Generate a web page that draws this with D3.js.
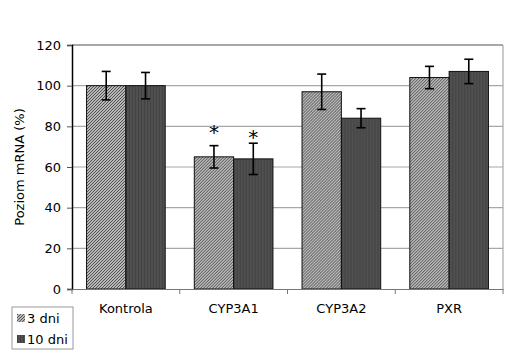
<!DOCTYPE html>
<html>
<head>
<meta charset="utf-8">
<script src="https://cdn.jsdelivr.net/npm/d3@7"></script>
<style>
  body { margin: 0; background: #fff; }
  svg { display: block; font-family: "DejaVu Sans", sans-serif; }
</style>
</head>
<body>
<svg id="chart" width="509" height="363"></svg>
<script>
// data
const categories = ["Kontrola", "CYP3A1", "CYP3A2", "PXR"];
const seriesNames = ["3 dni", "10 dni"];
const values3 = [100, 65, 97, 104];
const values10 = [100, 64, 84, 107];
const err3 = [7, 5.5, 8.7, 5.5];
const err10 = [6.5, 7.7, 4.7, 6];
const yTicks = [0, 20, 40, 60, 80, 100, 120];
// significance marks: [category index, series index, level]
const stars = [[1, 0, 78], [1, 1, 75.5]];

const svg = d3.select("#chart");
const plotLeft = 72, plotRight = 503, plotTop = 45, plotBottom = 289;

const x = d3.scaleBand().domain(categories).range([plotLeft, plotRight]).paddingInner(0).paddingOuter(0);
const xs = d3.scaleBand().domain(seriesNames).range([0, x.bandwidth()]).paddingInner(0).paddingOuter(0.37);
const y = d3.scaleLinear().domain([0, 120]).range([plotBottom, plotTop]);

const defs = svg.append("defs");
const hatch = defs.append("pattern")
    .attr("id", "hatch").attr("patternUnits", "userSpaceOnUse")
    .attr("width", 3).attr("height", 3);
hatch.append("rect").attr("width", 3).attr("height", 3).attr("fill", "#e4e4e4");
hatch.append("path").attr("d", "M-1,1 L1,-1 M0,3 L3,0 M2,4 L4,2")
    .attr("stroke", "#4a4a4a").attr("stroke-width", 1.1);

const dark = defs.append("pattern")
    .attr("id", "dark").attr("patternUnits", "userSpaceOnUse")
    .attr("width", 3).attr("height", 3);
dark.append("rect").attr("width", 3).attr("height", 3).attr("fill", "#505050");
dark.append("rect").attr("width", 1).attr("height", 3).attr("fill", "#424242");

const fills = ["url(#hatch)", "url(#dark)"];

// gridlines
svg.append("g").selectAll("line")
    .data(yTicks.filter(t => t > 0 && t < 120))
    .join("line")
    .attr("x1", plotLeft).attr("x2", plotRight)
    .attr("y1", d => y(d)).attr("y2", d => y(d))
    .attr("stroke", "#a8a8a8").attr("stroke-width", 1.2);

// plot frame
svg.append("line").attr("x1", plotLeft).attr("x2", plotRight).attr("y1", plotTop).attr("y2", plotTop)
    .attr("stroke", "#8a8a8a").attr("stroke-width", 1.5);
svg.append("line").attr("x1", plotRight).attr("x2", plotRight).attr("y1", plotTop).attr("y2", plotBottom)
    .attr("stroke", "#a8a8a8").attr("stroke-width", 1.2);

// bars
const rows = categories.map((c, i) => ({
  cat: c,
  items: [
    { s: 0, name: seriesNames[0], v: values3[i], e: err3[i] },
    { s: 1, name: seriesNames[1], v: values10[i], e: err10[i] }
  ]
}));

const groups = svg.append("g").selectAll("g")
    .data(rows).join("g")
    .attr("transform", d => `translate(${x(d.cat)},0)`);

groups.selectAll("rect")
    .data(d => d.items).join("rect")
    .attr("x", d => xs(d.name))
    .attr("width", xs.bandwidth())
    .attr("y", d => y(d.v))
    .attr("height", d => y(0) - y(d.v))
    .attr("fill", d => fills[d.s])
    .attr("stroke", "#111").attr("stroke-width", 1);

// error bars
const cx = d => xs(d.name) + xs.bandwidth() / 2;
const eb = groups.selectAll("g.err")
    .data(d => d.items).join("g").attr("class", "err")
    .attr("stroke", "#000").attr("stroke-width", 1.6);
eb.append("line")
    .attr("x1", cx).attr("x2", cx)
    .attr("y1", d => y(d.v + d.e)).attr("y2", d => y(d.v - d.e));
eb.append("line")
    .attr("x1", d => cx(d) - 4.5).attr("x2", d => cx(d) + 4.5)
    .attr("y1", d => y(d.v + d.e)).attr("y2", d => y(d.v + d.e));
eb.append("line")
    .attr("x1", d => cx(d) - 4.5).attr("x2", d => cx(d) + 4.5)
    .attr("y1", d => y(d.v - d.e)).attr("y2", d => y(d.v - d.e));

// asterisks
svg.append("g").selectAll("text")
    .data(stars).join("text")
    .attr("x", d => x(categories[d[0]]) + xs(seriesNames[d[1]]) + xs.bandwidth() / 2)
    .attr("y", d => y(d[2]) + 9)
    .attr("text-anchor", "middle")
    .style("font-size", "20px")
    .text("*");

// y axis
const yAxis = svg.append("g")
    .attr("transform", `translate(${plotLeft},0)`)
    .call(d3.axisLeft(y).tickValues(yTicks).tickSize(5).tickPadding(6));
yAxis.select(".domain").attr("stroke", "#000").attr("stroke-width", 1.5);
yAxis.selectAll(".tick line").attr("stroke", "#555");
yAxis.selectAll("text").style("font-size", "13px").attr("fill", "#000")
    .attr("font-family", "DejaVu Sans");

// x axis
const xAxis = svg.append("g")
    .attr("transform", `translate(0,${plotBottom})`)
    .call(d3.axisBottom(x).tickSize(0).tickPadding(15));
xAxis.select(".domain").attr("stroke", "#777").attr("stroke-width", 1.2);
xAxis.selectAll("text").style("font-size", "13px").attr("fill", "#000")
    .attr("font-family", "DejaVu Sans");
svg.append("g").selectAll("line")
    .data(d3.range(categories.length + 1))
    .join("line")
    .attr("x1", i => plotLeft + i * x.step()).attr("x2", i => plotLeft + i * x.step())
    .attr("y1", plotBottom).attr("y2", plotBottom + 5)
    .attr("stroke", "#777");

// y title
svg.append("text")
    .attr("transform", `translate(24,${(plotTop + plotBottom) / 2}) rotate(-90)`)
    .attr("text-anchor", "middle")
    .style("font-size", "13px")
    .text("Poziom mRNA (%)");

// legend
const lg = svg.append("g");
lg.append("rect").attr("x", 12).attr("y", 307).attr("width", 61).attr("height", 42)
    .attr("fill", "#fff").attr("stroke", "#999").attr("stroke-width", 1);
const li = lg.selectAll("g.item").data(seriesNames).join("g").attr("class", "item")
    .attr("transform", (d, i) => `translate(17,${318 + i * 21})`);
li.append("rect").attr("x", 0).attr("y", -4).attr("width", 8).attr("height", 8)
    .attr("fill", (d, i) => fills[i]);
li.append("text").attr("x", 10).attr("y", 5)
    .style("font-size", "13px").text(d => d);
</script>
</body>
</html>
